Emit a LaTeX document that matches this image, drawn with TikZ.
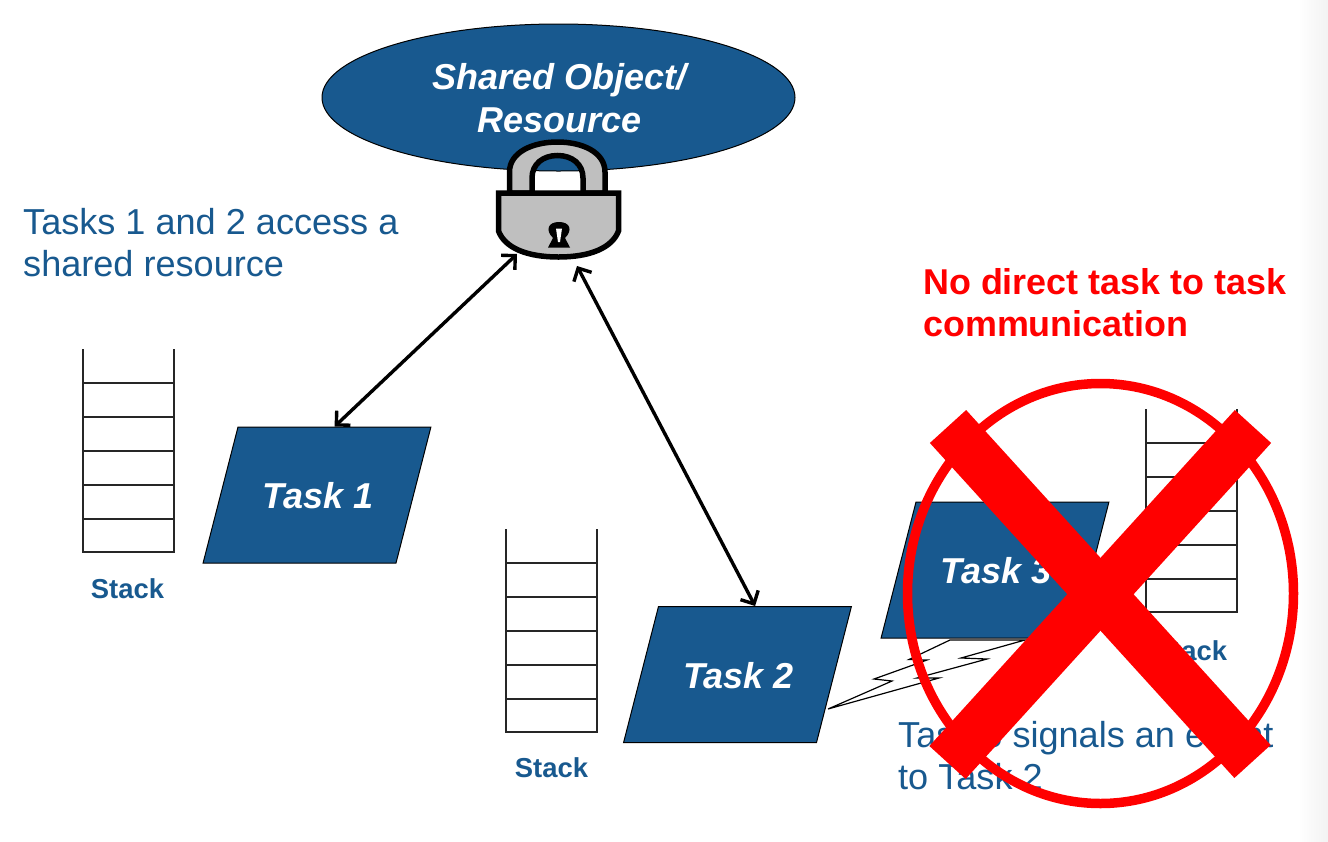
\documentclass[tikz,border=0pt]{standalone}
\usepackage{fontspec}
\setmainfont{Liberation Sans}
\usetikzlibrary{shapes.geometric,arrows.meta,positioning}
\definecolor{taskblue}{HTML}{18598F}
\definecolor{lockgray}{HTML}{BFBFBF}
\tikzset{
  tasktext/.style = {text=white, inner sep=0pt, align=center, xshift=1pt, yshift=-1pt,
    font=\fontsize{36}{43}\selectfont\bfseries\itshape},
  taskbox/.style = {trapezium, trapezium left angle=75.6, trapezium right angle=104.4,
    draw=black, line width=1pt, fill=taskblue, inner xsep=79pt, inner ysep=68pt},
  stackline/.style = {draw=black!85, line width=1.4pt},
  stacklabel/.style = {text=taskblue, inner sep=0pt, font=\fontsize{27.4}{32}\selectfont\bfseries},
  note/.style = {text=taskblue, inner sep=0pt, align=left, anchor=north west, font=\fontsize{36.1}{42}\selectfont},
  access/.style = {draw=black, line width=3.4pt, {Straight Barb[length=10pt,width=20pt,line width=3.4pt]}-{Straight Barb[length=10pt,width=20pt,line width=3.4pt]}},
  lockline/.style = {draw=black, line width=5.5pt, fill=lockgray, line join=miter},
  forbid/.style = {draw=red, line width=49pt}
}
\begin{document}
\begin{tikzpicture}[x=1pt, y=-1pt]
  \useasboundingbox (0,0) rectangle (1328,841);
  \shade[left color=white, right color=black!5] (1298,0) rectangle (1328,841);
  % shared resource
  \node[ellipse, draw=black, line width=1pt, fill=taskblue, inner sep=0pt,
    minimum width=473pt, minimum height=147pt, label={[tasktext]center:Shared Object/\\Resource}]
    (resource) at (558.5,97.5) {};
  % lock
  \path[lockline] (509.5,193) -- (509.5,172) .. controls (509.5,152) and (533,142) .. (557.5,142)
    .. controls (582,142) and (605,152) .. (605,172) -- (605,193) -- (583,193) -- (583,178)
    .. controls (583,164) and (572,155.5) .. (557.5,155.5) .. controls (543,155.5) and (532,164) .. (532,178)
    -- (532,193) -- cycle;
  \path[lockline] (498.5,193) -- (618.5,193) -- (618.5,231) .. controls (612,248) and (590,257) .. (558.5,257)
    .. controls (527,257) and (505,248) .. (498.5,231) -- cycle;
  \fill[black] (548,247.5) -- (553,238) .. controls (545,230) and (548,222) .. (559,222)
    .. controls (570,222) and (573,230) .. (565,238) -- (570,247.5) -- cycle;
  \fill[white] (556,228.5) -- (562,228.5) -- (560,242) -- (558,242) -- cycle;
  \coordinate (lockleft) at (517,254);
  \coordinate (lockright) at (577,266);
  % stacks
  \foreach \sx/\sy/\nm in {83/349/one, 506/529/two, 1146/409/three}{
    \draw[stackline] (\sx,\sy) -- (\sx,\sy+203) -- (\sx+91,\sy+203) -- (\sx+91,\sy);
    \foreach \rung in {34,68,102,136,170}
      \draw[stackline] (\sx,\sy+\rung) -- (\sx+91,\sy+\rung);
  }
  \node[stacklabel] (labone) at (127.5,589) {Stack};
  \node[stacklabel] (labtwo) at (551.5,768) {Stack};
  \node[stacklabel] (labthree) at (1190.5,651) {Stack};
  % tasks
  \node[taskbox, label={[tasktext]center:Task 1}] (task1) at (317,495) {};
  \node[taskbox, label={[tasktext]center:Task 2}] (task2) at (737.5,674.5) {};
  \node[taskbox, label={[tasktext]center:Task 3}] (task3) at (995,570) {};
  \draw[access] (lockleft) -- (task1.top side);
  \draw[access] (lockright) -- (task2.top side);
  % event bolt
  \draw[line width=1.2pt, fill=white] (828,709) -- (892,681) -- (874,679) -- (927,660) -- (909,659.5)
    -- (950,640) -- (1025,640) -- (961,658) -- (987,659) -- (917,678) -- (939,678) -- cycle;
  % notes
  \node[note] (noteshared) at (23,208) {Tasks 1 and 2 access a\\shared resource};
  \node[note] (noteevent) at (898,721) {Task 3 signals an event\\to Task 2};
  \node[note, text=red, font=\fontsize{35.9}{42}\selectfont\bfseries] (noteforbid) at (923,268) {No direct task to task\\communication};
  % crossed out
  \draw[red, line width=9.5pt] (1100.5,593.5) ellipse [x radius=193, y radius=210];
  \draw[forbid] (948,426.5) -- (1252.5,761.5);
  \draw[forbid] (1253,426.5) -- (947.5,762.5);
\end{tikzpicture}
\end{document}
